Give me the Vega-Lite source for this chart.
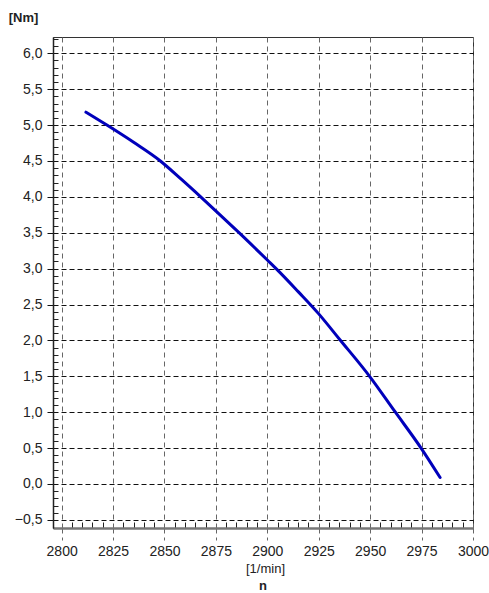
{
  "$schema": "https://vega.github.io/schema/vega-lite/v6.json",
  "autosize": "none",
  "width": 420,
  "height": 491,
  "padding": {"left": 53, "top": 37, "right": 16, "bottom": 65},
  "background": "white",
  "config": {
    "font": "Liberation Sans",
    "view": {"stroke": "#333", "strokeWidth": 1},
    "axis": {"labelFont": "Liberation Sans", "titleFont": "Liberation Sans", "labelColor": "#222", "titleColor": "#222"}
  },
  "title": {"text": "n", "orient": "bottom", "anchor": "middle", "fontSize": 13, "fontWeight": "bold", "font": "Liberation Sans", "color": "#222", "offset": 5},
  "data": {"values": [
    {"n": 2811.8, "M": 5.18},
    {"n": 2822, "M": 5.0},
    {"n": 2835, "M": 4.76},
    {"n": 2848, "M": 4.5},
    {"n": 2858, "M": 4.25},
    {"n": 2868, "M": 3.99},
    {"n": 2877, "M": 3.75},
    {"n": 2887, "M": 3.48},
    {"n": 2900, "M": 3.12},
    {"n": 2905, "M": 2.98},
    {"n": 2915, "M": 2.68},
    {"n": 2925, "M": 2.37},
    {"n": 2935, "M": 2.02},
    {"n": 2950, "M": 1.49},
    {"n": 2962, "M": 1.01},
    {"n": 2975, "M": 0.49},
    {"n": 2984, "M": 0.09}
  ]},
  "resolve": {"axis": {"x": "independent", "y": "independent"}},
  "layer": [
    {
      "mark": {"type": "line", "strokeOpacity": 0, "clip": true},
      "encoding": {
        "x": {"field": "n", "type": "quantitative", "scale": {"domain": [2795.8, 3000], "nice": false, "zero": false},
          "axis": {"orient": "bottom", "values": [2805,2810,2815,2820,2830,2835,2840,2845,2855,2860,2865,2870,2880,2885,2890,2895,2905,2910,2915,2920,2930,2935,2940,2945,2955,2960,2965,2970,2980,2985,2990,2995],
            "labels": false, "grid": false, "domain": false, "tickSize": -6, "tickColor": "#222", "tickWidth": 1, "title": null}},
        "y": {"field": "M", "type": "quantitative", "scale": {"domain": [-0.613, 6.227], "nice": false, "zero": false},
          "axis": {"orient": "left", "values": [-0.4,-0.3,-0.2,-0.1,0.1,0.2,0.3,0.4,0.6,0.7,0.8,0.9,1.1,1.2,1.3,1.4,1.6,1.7,1.8,1.9,2.1,2.2,2.3,2.4,2.6,2.7,2.8,2.9,3.1,3.2,3.3,3.4,3.6,3.7,3.8,3.9,4.1,4.2,4.3,4.4,4.6,4.7,4.8,4.9,5.1,5.2,5.3,5.4,5.6,5.7,5.8,5.9,6.1,6.2],
            "labels": false, "grid": false, "domain": false, "tickSize": -5, "tickColor": "#222", "tickWidth": 1, "title": null}}
      }
    },
    {
      "mark": {"type": "line", "color": "#0000bb", "strokeWidth": 3, "strokeCap": "round", "interpolate": "monotone", "clip": true},
      "encoding": {
        "x": {"field": "n", "type": "quantitative",
          "axis": {"orient": "bottom", "values": [2800,2825,2850,2875,2900,2925,2950,2975,3000], "format": "d",
            "labelFontSize": 14, "labelPadding": 4, "labelOverlap": false, "labelFlush": false,
            "grid": true, "gridColor": "#666", "gridDash": [5, 4], "gridWidth": 1,
            "ticks": true, "tickSize": 12, "tickColor": "#666", "tickDash": [5, 4], "tickWidth": 1,
            "domain": true, "domainColor": "#777", "domainWidth": 2.5,
            "title": "[1/min]", "titleFontSize": 13, "titleFontWeight": "normal", "titleY": 40, "titleBaseline": "middle", "titleX": 212}},
        "y": {"field": "M", "type": "quantitative",
          "axis": {"orient": "left", "values": [-0.5,0,0.5,1,1.5,2,2.5,3,3.5,4,4.5,5,5.5,6],
            "labelExpr": "replace(format(datum.value, '.1f'), '.', ',')",
            "labelFontSize": 14, "labelPadding": 5, "labelOverlap": false, "labelFlush": false,
            "grid": true, "gridColor": "#111", "gridDash": [5, 3], "gridWidth": 1,
            "ticks": true, "tickSize": 6, "tickColor": "#111", "tickWidth": 1,
            "domain": true, "domainColor": "#222", "domainWidth": 1.5,
            "title": "[Nm]", "titleAngle": 0, "titleFontSize": 13, "titleFontWeight": "bold", "titleAlign": "center", "titleBaseline": "middle", "titleX": -30, "titleY": -20}}
      }
    }
  ]
}
